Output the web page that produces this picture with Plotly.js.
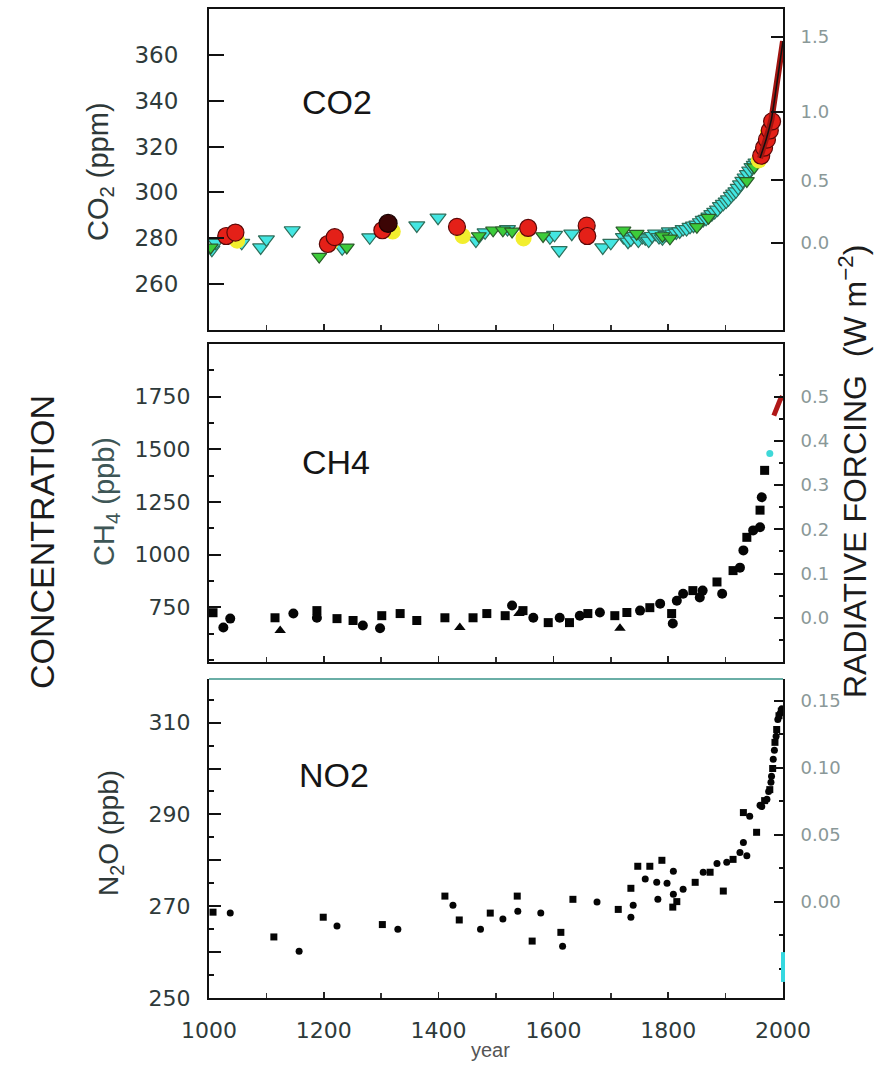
<!DOCTYPE html>
<html>
<head>
<meta charset="utf-8">
<script src="https://cdn.plot.ly/plotly-3.0.1.min.js"></script>
<style>
  html, body { margin: 0; padding: 0; background: #ffffff; }
  #chart { width: 890px; height: 1065px; }
</style>
</head>
<body>
<div id="chart"></div>
<script>
// ---------- CO2 (ppm), ice cores and atmospheric record ----------
const co2CyanYear = [1005,1012,1057,1090,1100,1145,1232,1280,1362,1399,1465,1481,1520,1594,1602,1610,1632,1686,1700,1722,1730,1735,1742,1748,1755,1760,1766,1772,1778,1784,1790,1796,1802,1808,1814,1820,1826,1832,1838,1844,1850,1856,1861,1866,1871,1876,1881,1886,1891,1896,1901,1905,1910,1914,1918,1922,1926,1930,1934,1938,1942,1946,1950,1953];
const co2CyanPpm  = [275,278,278,276,279.5,283.5,275.6,280.4,285.6,289,279,282.6,284,280.4,281.5,274.8,282,276,278,280.5,278.5,279.5,281,279,280.5,280,279,281,282,280.5,280,281.5,283,282,282.5,283,284,284,285,285.5,286,287,288,288.5,289.5,290.5,291.5,292.5,294,295,296,297,298.5,299.5,300.5,302,303.5,305,306.5,308,309.5,311,312,313];

const co2GreenYear = [1003,1192,1240,1470,1495,1512,1528,1582,1722,1745,1790,1803,1850,1870,1937,1950];
const co2GreenPpm  = [276,272,276,281,283.5,283.5,283,281,283.5,282,281,280,285,289,305,311];

const co2YellowYear = [1049,1212,1320,1442,1548,1958,1966,1974];
const co2YellowPpm  = [279,278,283,281,280,314,319,326];

const co2RedYear = [1030,1046,1207,1219,1302,1432,1556,1658,1659,1962,1967,1972,1977,1981];
const co2RedPpm  = [281,282.5,277.5,280.5,283.5,285,284.5,285.5,281,316,319.5,323,327,331];

const co2DarkYear = [1312];
const co2DarkPpm  = [286.5];

const co2AtmosYear = [1960,1965,1970,1975,1980,1985,1990,1995,2000];
const co2AtmosPpm  = [315,318.5,322.5,327,332,340,349,357.5,366];

// ---------- CH4 (ppb) ----------
const ch4SqYear = [1007,1115,1188,1223,1251,1301,1333,1362,1411,1460,1484,1516,1547,1591,1628,1660,1707,1728,1768,1806,1843,1885,1913,1937,1960,1968];
const ch4SqPpb  = [724,700,734,696,687,710,720,687,700,700,720,710,734,677,677,720,710,725,748,720,829,870,924,1082,1211,1400];
const ch4CiYear = [1037,1025,1147,1188,1268,1298,1528,1565,1611,1646,1681,1751,1786,1808,1815,1826,1855,1860,1894,1925,1931,1948,1960,1963];
const ch4CiPpb  = [696,654,720,700,663,650,758,700,700,710,725,734,767,673,781,814,796,829,814,938,1020,1115,1130,1272];
const ch4TriYear = [1124,1437,1540,1716];
const ch4TriPpb  = [640,654,720,650];
const ch4CyanYear = [1977];
const ch4CyanPpb  = [1480];
const ch4AtmosYear = [1984,1990,1995,1999];
const ch4AtmosPpb  = [1660,1705,1735,1752];

// ---------- N2O (ppb) ----------
const n2oSqYear = [1007,1113,1199,1302,1411,1436,1490,1537,1563,1613,1634,1713,1735,1747,1768,1789,1808,1815,1847,1873,1896,1913,1931,1954,1968,1977,1982,1986,1989,1993,1997];
const n2oSqPpb  = [268.7,263.3,267.6,266,272.2,267,268.5,272.2,262.4,264.3,271.5,269.3,273.9,278.7,278.7,280,269.8,271,275.2,277.4,273.3,280.2,290.4,286.1,293,295.4,300,305.7,308.5,311.5,312.5];
const n2oCiYear = [1037,1157,1223,1329,1425,1473,1512,1538,1578,1616,1676,1735,1739,1760,1780,1782,1798,1809,1809,1826,1861,1885,1902,1925,1931,1937,1942,1960,1963,1972,1975,1979,1980,1983,1985,1988,1991,1995,1998];
const n2oCiPpb  = [268.5,260.2,265.7,265,270.2,265,267.2,268.9,268.5,261.3,270.9,267.6,270.2,275.9,275.2,271.5,275,272.6,277.6,273.7,277.4,279.3,279.6,281.7,283.9,281,289.6,292,291.7,293.3,295,297,298.3,302,304,307,310.7,312,313];

// ---------- axis ticks ----------
const yearTicks = [1000,1200,1400,1600,1800,2000];
const co2Ticks = [260,280,300,320,340,360];
const ch4Ticks = [750,1000,1250,1500,1750];
const n2oTicks = [250,260,270,280,290,300,310];
const n2oTickText = ['250','','270','','290','','310'];
const co2ForcingTicks = [0.0,0.5,1.0,1.5];
const ch4ForcingTicks = [0.0,0.1,0.2,0.3,0.4,0.5];
const ch4ForcingMinor = [-0.05,0.05,0.15,0.25,0.35,0.45,0.55];
const n2oForcingTicks = [0.00,0.05,0.10,0.15];
const n2oForcingMinor = [-0.05,-0.025,0.025,0.075,0.125];

// forcing scales of the right-hand axes, in concentration units
const co2Ref = 278;                       // F = 5.35 ln(C / C0)
const ch4Zero = 700, ch4PerWm2 = 2100;    // ppb = zero + F * slope
const n2oZero = 271, n2oPerWm2 = 292;
const co2AtF = f => co2Ref * Math.exp(f / 5.35);
const ch4AtF = f => ch4Zero + f * ch4PerWm2;
const n2oAtF = f => n2oZero + f * n2oPerWm2;

// ---------- page geometry ----------
const W = 890, H = 1065;
const L = 209, R = 783, T = 9, B = 998;
const px = x => (x - L) / (R - L);
const py = y => (B - y) / (B - T);

const co2Range = [240, 380];
const ch4Range = [490, 2000];
const n2oRange = [250, 319.5];

const tickFont = {family: 'DejaVu Sans, sans-serif', size: 22, color: '#2e3a3a'};
const rightFont = {family: 'DejaVu Sans, sans-serif', size: 18, color: '#8a9898'};
const labelFont = {family: 'Liberation Sans, Arial, sans-serif'};

function co2Trace(x, y, symbol, size, color, lineColor) {
  return {x: x, y: y, xaxis: 'x', yaxis: 'y', type: 'scatter', mode: 'markers',
    marker: {symbol: symbol, size: size, color: color, line: {color: lineColor, width: 1.2}},
    hoverinfo: 'x+y', showlegend: false};
}
function blackTrace(x, y, xa, ya, symbol, size) {
  return {x: x, y: y, xaxis: xa, yaxis: ya, type: 'scatter', mode: 'markers',
    marker: {symbol: symbol, size: size, color: '#050505'}, hoverinfo: 'x+y', showlegend: false};
}

const traces = [
  co2Trace(co2CyanYear, co2CyanPpm, 'triangle-down', 14, '#43e6e2', '#2f6e5a'),
  co2Trace(co2GreenYear, co2GreenPpm, 'triangle-down', 13, '#3dcc3a', '#2a5a2a'),
  co2Trace(co2YellowYear, co2YellowPpm, 'circle', 15, '#f2ee2e', '#f2ee2e'),
  co2Trace(co2RedYear, co2RedPpm, 'circle', 17, '#e42018', '#5a0808'),
  co2Trace(co2DarkYear, co2DarkPpm, 'circle', 18, '#3c0505', '#1a0202'),
  // atmospheric records sit on the forcing axes (same concentration scale)
  {x: co2AtmosYear, y: co2AtmosPpm, xaxis: 'x', yaxis: 'y4', type: 'scatter', mode: 'lines',
   line: {color: '#a01410', width: 6}, hoverinfo: 'x+y', showlegend: false},
  {x: co2AtmosYear, y: co2AtmosPpm, xaxis: 'x', yaxis: 'y4', type: 'scatter', mode: 'lines',
   line: {color: '#101010', width: 1.5}, hoverinfo: 'skip', showlegend: false},

  blackTrace(ch4SqYear, ch4SqPpb, 'x2', 'y2', 'square', 9),
  blackTrace(ch4CiYear, ch4CiPpb, 'x2', 'y2', 'circle', 10),
  blackTrace(ch4TriYear, ch4TriPpb, 'x2', 'y2', 'triangle-up', 10),
  {x: ch4CyanYear, y: ch4CyanPpb, xaxis: 'x2', yaxis: 'y2', type: 'scatter', mode: 'markers',
   marker: {symbol: 'circle', size: 7, color: '#3fd8d8'}, hoverinfo: 'x+y', showlegend: false},
  {x: ch4AtmosYear, y: ch4AtmosPpb, xaxis: 'x2', yaxis: 'y5', type: 'scatter', mode: 'lines',
   line: {color: '#b01818', width: 5}, hoverinfo: 'x+y', showlegend: false},

  blackTrace(n2oSqYear, n2oSqPpb, 'x3', 'y6', 'square', 7),
  blackTrace(n2oCiYear, n2oCiPpb, 'x3', 'y3', 'circle', 7)
];

const axisLine = {showline: true, linecolor: '#111', linewidth: 2, showgrid: false, zeroline: false};

const xBase = Object.assign({}, axisLine, {
  range: [1000, 2000], ticks: 'inside', ticklen: 6, tickwidth: 1.5, tickcolor: '#222',
  tickvals: yearTicks, minor: {dtick: 100, tick0: 1000, ticks: 'inside', ticklen: 5, tickcolor: '#333'}
});

function note(text, x, y, size, color, extra) {
  return Object.assign({text: text, xref: 'paper', yref: 'paper', x: px(x), y: py(y),
    xanchor: 'center', yanchor: 'middle', showarrow: false,
    font: Object.assign({}, labelFont, {size: size, color: color})}, extra || {});
}

const layout = {
  width: W, height: H,
  margin: {l: L, r: W - R, t: T, b: H - B},
  paper_bgcolor: '#ffffff', plot_bgcolor: '#ffffff',
  showlegend: false,

  xaxis:  Object.assign({}, xBase, {anchor: 'y',  showticklabels: false, mirror: true}),
  xaxis2: Object.assign({}, xBase, {anchor: 'y2', showticklabels: false, mirror: true}),
  xaxis3: Object.assign({}, xBase, {anchor: 'y3', showticklabels: true, mirror: false,
    ticktext: yearTicks.map(String), tickfont: tickFont, ticklabelstandoff: 12}),

  yaxis: Object.assign({}, axisLine, {domain: [py(330), 1], anchor: 'x', range: co2Range,
    tickvals: co2Ticks, ticks: 'inside', ticklen: 15, tickwidth: 2, tickcolor: '#111',
    tickfont: Object.assign({}, tickFont, {size: 23}), ticklabelstandoff: 24}),
  yaxis4: Object.assign({}, axisLine, {overlaying: 'y', side: 'right', anchor: 'x', range: co2Range,
    tickvals: co2ForcingTicks.map(co2AtF), ticktext: co2ForcingTicks.map(f => f.toFixed(1)),
    ticks: 'inside', ticklen: 12, tickwidth: 2, tickcolor: '#111',
    tickfont: rightFont, ticklabelstandoff: 12}),

  yaxis2: Object.assign({}, axisLine, {domain: [py(662), py(344)], anchor: 'x2', range: ch4Range,
    tickvals: ch4Ticks, ticks: 'inside', ticklen: 12, tickwidth: 2, tickcolor: '#111',
    minor: {dtick: 125, tick0: 0, ticks: 'inside', ticklen: 5, tickcolor: '#111'},
    tickfont: tickFont, ticklabelstandoff: 12}),
  yaxis5: Object.assign({}, axisLine, {overlaying: 'y2', side: 'right', anchor: 'x2', range: ch4Range,
    tickvals: ch4ForcingTicks.map(ch4AtF), ticktext: ch4ForcingTicks.map(f => f.toFixed(1)),
    ticks: 'inside', ticklen: 9, tickwidth: 2, tickcolor: '#111',
    minor: {tickmode: 'array', tickvals: ch4ForcingMinor.map(ch4AtF), ticks: 'inside', ticklen: 4, tickcolor: '#111'},
    tickfont: rightFont, ticklabelstandoff: 12}),

  yaxis3: Object.assign({}, axisLine, {domain: [0, py(679)], anchor: 'x3', range: n2oRange,
    tickvals: n2oTicks, ticktext: n2oTickText, ticks: 'inside', ticklen: 12, tickwidth: 2, tickcolor: '#111',
    minor: {dtick: 5, tick0: 0, ticks: 'inside', ticklen: 5, tickcolor: '#111'},
    tickfont: tickFont, ticklabelstandoff: 12}),
  yaxis6: Object.assign({}, axisLine, {overlaying: 'y3', side: 'right', anchor: 'x3', range: n2oRange,
    tickvals: n2oForcingTicks.map(n2oAtF), ticktext: n2oForcingTicks.map(f => f.toFixed(2)),
    ticks: 'inside', ticklen: 9, tickwidth: 2, tickcolor: '#111',
    minor: {tickmode: 'array', tickvals: n2oForcingMinor.map(n2oAtF), ticks: 'inside', ticklen: 4, tickcolor: '#111'},
    tickfont: rightFont, ticklabelstandoff: 12}),

  shapes: [
    // upper border of the N2O panel
    {type: 'line', xref: 'paper', yref: 'paper', x0: 0, x1: 1, y0: py(679), y1: py(679),
     line: {color: '#6aaea6', width: 2}},
    // tinted lower stretch of the N2O forcing axis
    {type: 'line', xref: 'paper', yref: 'y3', x0: 1, x1: 1, y0: 253.5, y1: 260,
     line: {color: '#35d8e0', width: 4}}
  ],

  annotations: [
    note('CONCENTRATION', 42, 542, 34, '#1c1c1c', {textangle: -90}),
    note('RADIATIVE FORCING  (W m<sup>\u22122</sup>)', 853, 472, 32, '#1c1c1c', {textangle: -90}),

    note('CO<sub>2</sub> (ppm)', 100, 172, 29, '#2e3838', {textangle: -90}),
    note('CH<sub>4</sub> (ppb)', 106, 502, 29, '#3e5656', {textangle: -90}),
    note('N<sub>2</sub>O (ppb)', 110, 833, 28, '#2e3838', {textangle: -90}),

    note('CO2', 300, 102, 34, '#151515', {xanchor: 'left'}),
    note('CH4', 300, 462, 34, '#151515', {xanchor: 'left'}),
    note('NO2', 297, 775, 34, '#151515', {xanchor: 'left'}),

    note('year', 490, 1050, 20, '#555')
  ]
};

Plotly.newPlot('chart', traces, layout, {staticPlot: true});
</script>
</body>
</html>
